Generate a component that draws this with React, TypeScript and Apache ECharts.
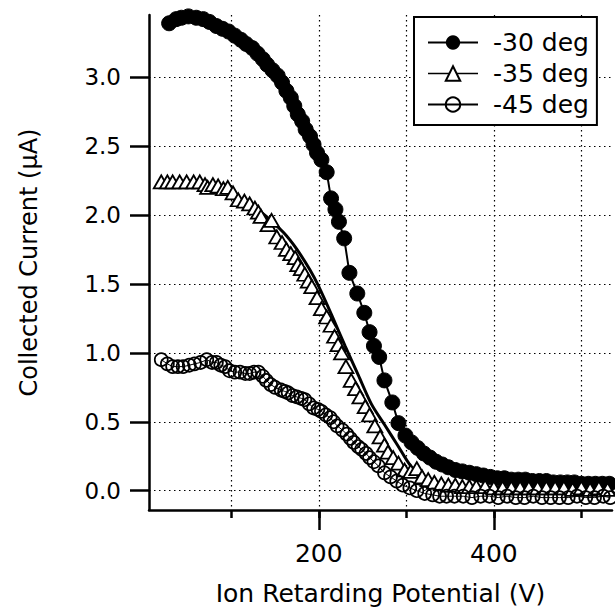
import React, { useEffect, useRef } from "react";
import * as echarts from "echarts";

// Ion retarding potential (V) / collected current (µA)
const series30: [number, number][] = [
  [29, 3.39], [37, 3.42], [43, 3.43], [51, 3.44], [60, 3.43], [68, 3.42], [75, 3.4], [83, 3.37],
  [90, 3.35], [97, 3.33], [104, 3.3], [111, 3.27], [117, 3.24], [124, 3.21], [130, 3.17], [136, 3.13],
  [141, 3.09], [147, 3.05], [153, 3.01], [158, 2.96], [163, 2.9], [168, 2.85], [172, 2.79], [176, 2.73],
  [181, 2.68], [185, 2.62], [190, 2.57], [194, 2.51], [198, 2.45], [203, 2.4], [209, 2.31], [214, 2.12],
  [219, 2.04], [223, 1.95], [229, 1.83], [235, 1.58], [244, 1.43], [252, 1.29], [258, 1.15], [263, 1.05],
  [269, 0.97], [275, 0.8], [284, 0.64], [291, 0.49], [299, 0.4], [306, 0.35], [313, 0.31], [320, 0.27],
  [327, 0.24], [334, 0.21], [341, 0.19], [348, 0.17], [356, 0.15], [364, 0.14], [372, 0.13], [380, 0.12],
  [388, 0.11], [396, 0.1], [404, 0.09], [412, 0.09], [420, 0.08], [428, 0.08], [436, 0.08], [444, 0.07],
  [452, 0.07], [460, 0.07], [468, 0.06], [476, 0.06], [484, 0.06], [492, 0.06], [500, 0.05], [508, 0.05],
  [516, 0.05], [524, 0.05], [532, 0.05],
];

const series35: [number, number][] = [
  [20, 2.24], [27, 2.24], [33, 2.24], [41, 2.24], [49, 2.24], [57, 2.24], [64, 2.24], [70, 2.22],
  [73, 2.2], [79, 2.22], [85, 2.21], [91, 2.19], [96, 2.2], [102, 2.16], [108, 2.11], [115, 2.1],
  [121, 2.08], [127, 2.05], [131, 2.02], [134, 1.99], [142, 1.93], [146, 1.96], [152, 1.84], [158, 1.8],
  [163, 1.75], [168, 1.72], [173, 1.69], [176, 1.64], [180, 1.61], [184, 1.57], [188, 1.52], [192, 1.48],
  [198, 1.4], [203, 1.32], [209, 1.26], [214, 1.2], [218, 1.12], [222, 1.06], [226, 1.0], [231, 0.9],
  [237, 0.8], [242, 0.74], [247, 0.68], [253, 0.61], [258, 0.55], [264, 0.47], [270, 0.39], [275, 0.33],
  [279, 0.28], [285, 0.24], [291, 0.2], [298, 0.15], [305, 0.14], [312, 0.16], [318, 0.1], [325, 0.08],
  [332, 0.06], [340, 0.05], [348, 0.04], [356, 0.04], [364, 0.03], [372, 0.03], [380, 0.03], [390, 0.03],
  [400, 0.02], [410, 0.02], [420, 0.02], [430, 0.02], [440, 0.02], [450, 0.02], [460, 0.02], [470, 0.02],
  [480, 0.02], [490, 0.01], [500, 0.02], [510, 0.01], [520, 0.02], [530, 0.01],
];

const fit35: [number, number][] = [
  [20, 2.23], [60, 2.22], [90, 2.17], [120, 2.08], [140, 1.99], [160, 1.87], [175, 1.75], [190, 1.6],
  [200, 1.48], [215, 1.27], [230, 1.05], [245, 0.84], [260, 0.63], [275, 0.48], [290, 0.33], [305, 0.18],
  [320, 0.09], [335, 0.05], [360, 0.03], [450, 0.02], [535, 0.02],
];

const series45: [number, number][] = [
  [20, 0.95], [27, 0.92], [33, 0.9], [39, 0.9], [45, 0.9], [52, 0.91], [58, 0.92], [65, 0.93],
  [72, 0.95], [78, 0.93], [83, 0.93], [88, 0.91], [93, 0.9], [98, 0.87], [104, 0.86], [110, 0.86],
  [116, 0.85], [121, 0.85], [126, 0.86], [131, 0.86], [136, 0.83], [140, 0.8], [145, 0.77], [150, 0.75],
  [157, 0.73], [161, 0.72], [165, 0.71], [170, 0.69], [175, 0.68], [180, 0.67], [184, 0.66], [189, 0.63],
  [194, 0.6], [199, 0.59], [203, 0.575], [208, 0.55], [213, 0.53], [217, 0.5], [221, 0.47], [227, 0.44],
  [232, 0.41], [236, 0.38], [240, 0.35], [245, 0.32], [249, 0.3], [254, 0.27], [258, 0.24], [263, 0.21],
  [268, 0.18], [275, 0.13], [282, 0.1], [289, 0.07], [296, 0.04], [304, 0.02], [312, 0.0], [321, -0.02],
  [330, -0.03], [338, -0.04], [346, -0.04], [355, -0.04], [365, -0.04], [375, -0.05], [385, -0.04], [395, -0.04],
  [405, -0.05], [415, -0.04], [425, -0.05], [435, -0.05], [445, -0.04], [455, -0.05], [465, -0.05], [475, -0.05],
  [485, -0.05], [495, -0.04], [505, -0.05], [515, -0.05], [525, -0.04], [533, -0.05],
];

const seriesNames = ["-30 deg", "-35 deg", "-45 deg"];
const xTicks = [100, 200, 300, 400, 500];
const xMajorTicks = [200, 400];
const yTicks = [0, 0.5, 1.0, 1.5, 2.0, 2.5, 3.0];
const xTitle = "Ion Retarding Potential (V)";
const yTitle = "Collected Current (\u03bcA)";

const FONT = "DejaVu Sans";

export default function App() {
  const ref = useRef<HTMLDivElement>(null);
  useEffect(() => {
    if (!ref.current) return;
    const chart = echarts.init(ref.current, null, { renderer: "svg" });
    const dotted = { color: "#000", width: 1.2, type: [1.5, 3.5] as number[] };
    chart.setOption({
      animation: false,
      backgroundColor: "#fff",
      grid: { left: 149, right: 3, top: 15, bottom: 103, containLabel: false },
      xAxis: [
        {
          type: "value",
          min: 6,
          max: 535,
          position: "bottom",
          name: xTitle,
          nameLocation: "middle",
          nameGap: 71,
          nameTextStyle: { fontFamily: FONT, fontSize: 25, color: "#000" },
          axisLine: { show: true, onZero: false, lineStyle: { color: "#000", width: 2.5 } },
          axisTick: { show: true, customValues: xTicks, length: 8, lineStyle: { color: "#000", width: 2.5 } },
          axisLabel: {
            customValues: xMajorTicks,
            margin: 31,
            fontFamily: FONT,
            fontSize: 25,
            color: "#000",
          },
          splitLine: { show: true, lineStyle: dotted },
        },
        {
          type: "value",
          min: 6,
          max: 535,
          position: "bottom",
          axisLine: { show: false, onZero: false },
          axisTick: { show: true, customValues: xMajorTicks, length: 20, lineStyle: { color: "#000", width: 2.5 } },
          axisLabel: { show: false },
          splitLine: { show: false },
        },
      ],
      yAxis: {
        type: "value",
        min: -0.14,
        max: 3.45,
        name: yTitle,
        nameLocation: "middle",
        nameGap: 108,
        nameRotate: 90,
        nameTextStyle: { fontFamily: FONT, fontSize: 24, color: "#000" },
        axisLine: { show: true, onZero: false, lineStyle: { color: "#000", width: 2.5 } },
        axisTick: { show: true, customValues: yTicks, length: 19, lineStyle: { color: "#000", width: 2.5 } },
        axisLabel: {
          customValues: yTicks,
          margin: 28,
          fontFamily: FONT,
          fontSize: 23,
          color: "#000",
          formatter: (v: number) => v.toFixed(1),
        },
        splitLine: { show: true, lineStyle: dotted },
      },
      legend: {
        orient: "vertical",
        left: 414,
        top: 17,
        backgroundColor: "#fff",
        borderColor: "#000",
        borderWidth: 2,
        borderRadius: 0,
        padding: [13, 8, 8, 13],
        itemWidth: 50,
        itemHeight: 18,
        itemGap: 6,
        textStyle: { fontFamily: FONT, fontSize: 25, color: "#000", padding: [0, 0, 0, 10], lineHeight: 25 },
        data: [
          { name: seriesNames[0] },
          { name: seriesNames[1], lineStyle: { opacity: 1, width: 1.5, color: "#000" } },
          { name: seriesNames[2] },
        ],
      },
      series: [
        {
          name: seriesNames[0],
          type: "line",
          data: series30,
          symbol: "circle",
          symbolSize: 15,
          itemStyle: { color: "#000", borderColor: "#000" },
          lineStyle: { color: "#000", width: 2 },
          z: 2,
        },
        {
          name: "fit",
          type: "line",
          data: fit35,
          symbol: "none",
          smooth: 0.3,
          lineStyle: { color: "#000", width: 3 },
          z: 3,
        },
        {
          name: seriesNames[1],
          type: "line",
          data: series35,
          symbol: "triangle",
          symbolSize: [15, 13],
          itemStyle: { color: "#fff", borderColor: "#000", borderWidth: 1.8 },
          lineStyle: { color: "#000", width: 1.5, opacity: 0 },
          z: 4,
        },
        {
          name: seriesNames[2],
          type: "line",
          data: series45,
          symbol: "circle",
          symbolSize: 13,
          itemStyle: { color: "rgba(255,255,255,0)", borderColor: "#000", borderWidth: 1.7 },
          lineStyle: { color: "#000", width: 1 },
          z: 5,
        },
      ],
    });
    return () => chart.dispose();
  }, []);
  return (
    <div
      ref={ref}
      style={{ position: "fixed", left: 0, top: 0, width: 615, height: 613, background: "#fff" }}
    />
  );
}
